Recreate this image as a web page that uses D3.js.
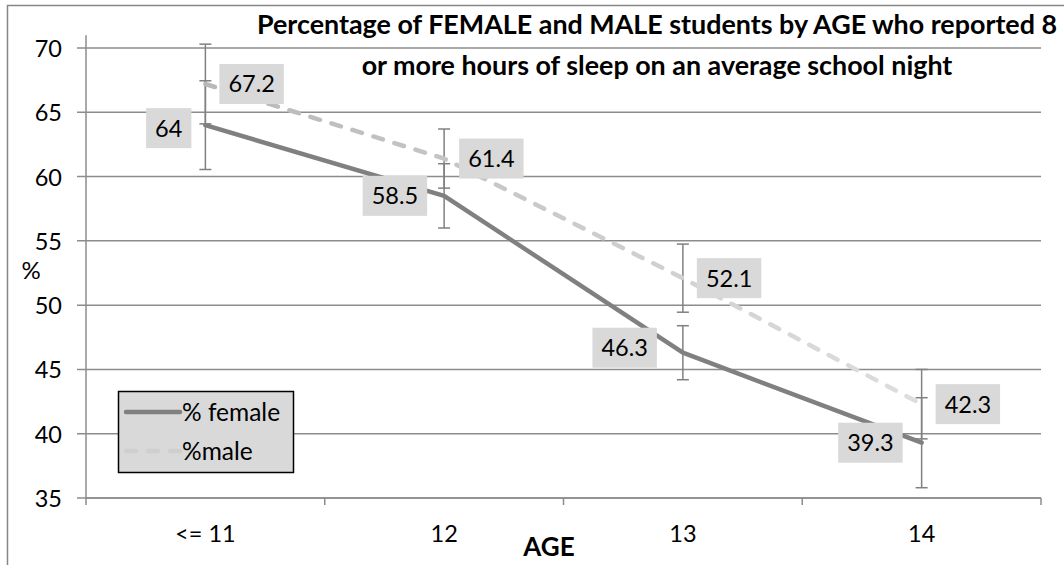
<!DOCTYPE html>
<html>
<head>
<meta charset="utf-8">
<script src="https://cdn.jsdelivr.net/npm/d3@7"></script>
<style>
  html, body { margin: 0; padding: 0; background: #fff; }
  svg { display: block; font-family: Lato, "Open Sans", sans-serif; }
</style>
</head>
<body>
<svg id="chart" width="1064" height="565"></svg>
<script>
// ---- data ----
const categories = ["<= 11", "12", "13", "14"];
const femaleValues = [64, 58.5, 46.3, 39.3];
const maleValues = [67.2, 61.4, 52.1, 42.3];
const femaleErrors = [3.45, 2.5, 2.1, 3.5];
const maleErrors = [3.1, 2.3, 2.65, 2.7];
const yTickValues = [35, 40, 45, 50, 55, 60, 65, 70];
const seriesNames = ["% female", "%male"];
const titleLines = ["Percentage of FEMALE and MALE students by AGE who reported 8",
                    "or more hours of sleep on an average school night"];

// ---- layout ----
const W = 1064, H = 565;
const plot = { left: 86, right: 1041, top: 48, bottom: 498 };
const femaleLabelSide = ["left", "left", "left", "left"];
const maleLabelSide = ["right", "right", "right", "right"];
const femaleLabelNudge = [[0, 3], [-3, 0], [-12, -5], [-5, 0]];
const maleLabelNudge = [[0, 0], [1, 0], [0, 0], [0, 0]];
const numFont = 23.5;

const svg = d3.select("#chart");

const x = d3.scaleBand().domain(categories).range([plot.left, plot.right]).padding(0);
const cx = c => x(c) + x.bandwidth() / 2;
const y = d3.scaleLinear().domain([35, 70]).range([plot.bottom, plot.top]);

// chart border
svg.append("rect").attr("x", 7.5).attr("y", 5.5).attr("width", 1100).attr("height", 600)
  .attr("fill", "#fff").attr("stroke", "#868686").attr("stroke-width", 1.5);

// gradient for male line
const defs = svg.append("defs");
const grad = defs.append("linearGradient").attr("id", "maleGrad")
  .attr("gradientUnits", "userSpaceOnUse")
  .attr("x1", cx(categories[0])).attr("x2", cx(categories[categories.length - 1]))
  .attr("y1", 0).attr("y2", 0);
grad.append("stop").attr("offset", "0%").attr("stop-color", "#b8b8b8");
grad.append("stop").attr("offset", "100%").attr("stop-color", "#dedede");

// gridlines
svg.append("g").selectAll("line").data(yTickValues).join("line")
  .attr("x1", plot.left - 9).attr("x2", plot.right)
  .attr("y1", d => y(d)).attr("y2", d => y(d))
  .attr("stroke", "#8c8c8c").attr("stroke-width", 1.5);

// y axis labels
const yAxis = d3.axisLeft(y).tickValues(yTickValues).tickSize(0).tickPadding(0);
const gy = svg.append("g").attr("transform", `translate(62,0)`).call(yAxis);
gy.select(".domain").remove();
gy.selectAll("text").attr("font-size", numFont).attr("fill", "#000").attr("font-family", "Lato").attr("dy", "0.36em");

// y axis line
svg.append("line").attr("x1", plot.left).attr("x2", plot.left)
  .attr("y1", y(71)).attr("y2", plot.bottom)
  .attr("stroke", "#8c8c8c").attr("stroke-width", 1.5);

// x axis
const xAxis = d3.axisBottom(x).tickSize(0).tickPadding(0);
const gx = svg.append("g").attr("transform", `translate(0,${plot.bottom})`).call(xAxis);
gx.select(".domain").remove();
gx.selectAll("text").attr("font-size", numFont).attr("fill", "#000").attr("font-family", "Lato")
  .attr("y", 44).attr("dy", 0);
svg.append("line").attr("x1", plot.left).attr("x2", plot.right)
  .attr("y1", plot.bottom).attr("y2", plot.bottom)
  .attr("stroke", "#8c8c8c").attr("stroke-width", 1.5);
const edges = categories.map(c => x(c)).concat([x(categories[categories.length - 1]) + x.bandwidth()]);
svg.append("g").selectAll("line").data(edges).join("line")
  .attr("x1", d => d).attr("x2", d => d)
  .attr("y1", plot.bottom).attr("y2", plot.bottom + 7)
  .attr("stroke", "#8c8c8c").attr("stroke-width", 1.5);

// axis titles
svg.append("text").attr("x", 549).attr("y", 556).attr("text-anchor", "middle")
  .attr("font-size", 26).attr("font-weight", "bold").attr("fill", "#000").text("AGE");
svg.append("text").attr("x", 31).attr("y", 279).attr("text-anchor", "middle")
  .attr("font-size", 24).attr("fill", "#000").text("%");

// error bars
function errorBars(values, errs) {
  const g = svg.append("g").attr("stroke", "#808080").attr("stroke-width", 1.5);
  values.forEach((v, i) => {
    const xc = cx(categories[i]);
    const y1 = y(v + errs[i]), y2 = y(v - errs[i]);
    g.append("line").attr("x1", xc).attr("x2", xc).attr("y1", y1).attr("y2", y2);
    g.append("line").attr("x1", xc - 6).attr("x2", xc + 6).attr("y1", y1).attr("y2", y1);
    g.append("line").attr("x1", xc - 6).attr("x2", xc + 6).attr("y1", y2).attr("y2", y2);
  });
}
errorBars(femaleValues, femaleErrors);
errorBars(maleValues, maleErrors);

// lines
const line = d3.line().x((d, i) => cx(categories[i])).y(d => y(d));
svg.append("path").datum(maleValues).attr("d", line)
  .attr("fill", "none").attr("stroke", "url(#maleGrad)").attr("stroke-width", 4.5)
  .attr("stroke-dasharray", "10,12").attr("stroke-linecap", "round");
svg.append("path").datum(femaleValues).attr("d", line)
  .attr("fill", "none").attr("stroke", "#808080").attr("stroke-width", 4.5)
  .attr("stroke-linejoin", "round").attr("stroke-linecap", "round");

// data labels
function dataLabels(values, sides, nudges) {
  const g = svg.append("g");
  values.forEach((v, i) => {
    const px = cx(categories[i]), py = y(v);
    const lg = g.append("g");
    const t = lg.append("text").attr("font-size", numFont).attr("fill", "#000")
      .attr("text-anchor", "middle").attr("dy", "0.36em").text(String(v));
    const tw = t.node().getComputedTextLength();
    const bw = tw + 18, bh = 40;
    const bx = (sides[i] === "left" ? px - 14 - bw : px + 14) + nudges[i][0];
    const by = py - bh / 2 + nudges[i][1];
    lg.insert("rect", "text").attr("x", bx).attr("y", by).attr("width", bw).attr("height", bh)
      .attr("fill", "#d9d9d9");
    t.attr("x", bx + bw / 2).attr("y", by + bh / 2);
  });
}
dataLabels(femaleValues, femaleLabelSide, femaleLabelNudge);
dataLabels(maleValues, maleLabelSide, maleLabelNudge);

// legend
const lg = svg.append("g");
lg.append("rect").attr("x", 118.5).attr("y", 391.5).attr("width", 175).attr("height", 81)
  .attr("fill", "#d9d9d9").attr("stroke", "#000").attr("stroke-width", 1.5);
lg.append("line").attr("x1", 126).attr("x2", 180).attr("y1", 412).attr("y2", 412)
  .attr("stroke", "#808080").attr("stroke-width", 4.5).attr("stroke-linecap", "round");
lg.append("line").attr("x1", 126).attr("x2", 180).attr("y1", 451).attr("y2", 451)
  .attr("stroke", "#cfcfcf").attr("stroke-width", 4.5).attr("stroke-linecap", "round")
  .attr("stroke-dasharray", "10,12");
lg.selectAll("text.leg").data(seriesNames).join("text").attr("class", "leg")
  .attr("x", 182).attr("y", (d, i) => 412 + i * 39).attr("dy", "0.36em")
  .attr("font-size", 24.5).attr("fill", "#000").text(d => d);

// title: both lines share the size that fits line 1 to its reference width
const titleY = [34, 75];
const titleTexts = titleLines.map((s, i) => svg.append("text").attr("x", 657).attr("y", titleY[i])
    .attr("text-anchor", "middle").attr("font-weight", "bold").attr("font-size", 22)
    .attr("fill", "#000").text(s));
const w0 = titleTexts[0].node().getComputedTextLength();
const tfs = 22 * 800 / w0;
titleTexts.forEach(t => t.attr("font-size", tfs.toFixed(2)));
</script>
</body>
</html>
